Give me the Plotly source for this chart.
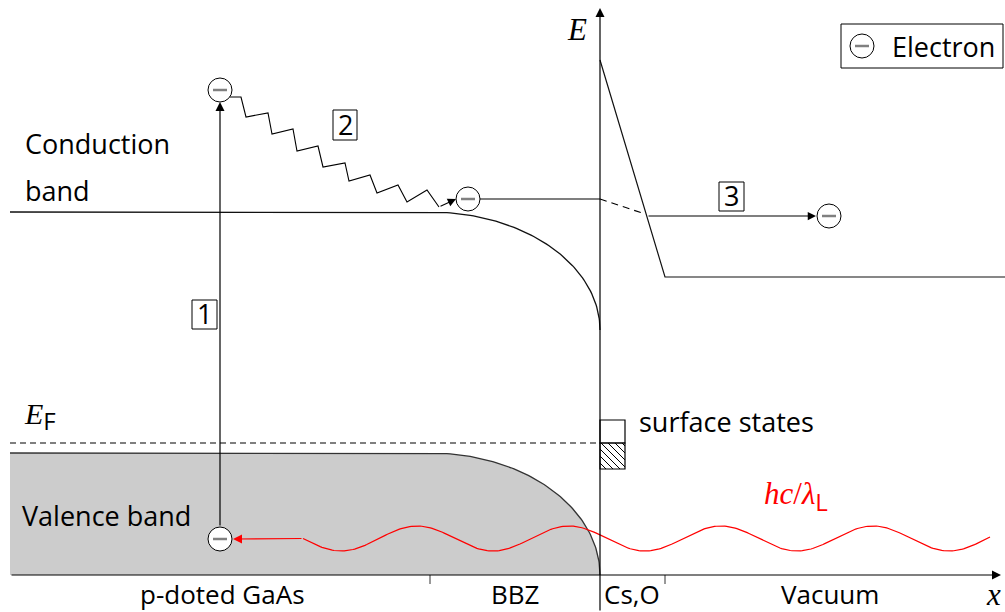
import numpy as np
import plotly.graph_objects as go

# ---- band diagram geometry (x in px along the sample, E in px above the x axis) ----
x_left, x_bend, x_surface, x_cs_end, x_end = 10, 430, 600, 665, 1005
E_cb_bulk, E_cb_surface = 363, 245          # conduction band edge
E_vb_bulk, E_vb_surface = 122, 0            # valence band edge
E_fermi = 132
E_vac_surface, E_vac = 515, 298             # Cs,O barrier top and vacuum level
surface_empty = (155, 132)                  # empty surface states (top, bottom)
surface_filled = (132, 106)                 # occupied surface states

# electrons: top after excitation, thermalised, valence, emitted
electrons = {"excited": (220, 485), "thermal": (468, 376),
             "valence": (220, 36), "emitted": (829, 359)}
r_e = 12

# relaxation zigzag (step 2): alternating upper / lower vertices
zig_x = [230, 241, 246, 268, 272, 293, 297, 318, 323, 345, 349, 370, 377, 398, 407, 427, 439]
zig_py = [97, 97, 117, 113, 134, 129, 151, 146, 167, 163, 181, 175, 193, 185, 202, 190, 207]
zig_E = [575 - v for v in zig_py]

# photon wave hc/lambda_L
wave_E0, wave_amp, wave_period, wave_trough_x = 36.5, 12.5, 152, 341
wave_x_start, wave_x_end = 303, 990

# numbered process steps: label, box x-range, box E-range
steps = [("1", (192, 217), (246, 275)),
         ("2", (333, 357), (435, 465)),
         ("3", (719, 744), (364, 393))]

region_labels = ["p-doted GaAs", "BBZ", "Cs,O", "Vacuum"]
region_x = [222, 515, 632, 830]
ticks_x = [x_bend, x_cs_end]

SANS = "Open Sans"
SERIF = "Liberation Serif"
FS = 27


def quarter_ellipse(x0, E0, x1, E1, n=80):
    t = np.linspace(0, np.pi / 2, n)
    return x0 + (x1 - x0) * np.sin(t), E1 + (E0 - E1) * np.cos(t)


fig = go.Figure()

# valence band (filled)
vx, vE = quarter_ellipse(x_bend, E_vb_bulk, x_surface, E_vb_surface)
vb_x = [x_left] + list(vx) + [x_surface, x_left]
vb_E = [E_vb_bulk] + list(vE) + [0, 0]
fig.add_trace(go.Scatter(x=vb_x, y=vb_E, mode="lines", fill="toself",
                         fillcolor="#cccccc", line=dict(color="rgba(0,0,0,0)", width=0),
                         hoverinfo="skip"))
fig.add_trace(go.Scatter(x=[x_left] + list(vx), y=[E_vb_bulk] + list(vE), mode="lines",
                         line=dict(color="#333333", width=1.3), hoverinfo="skip"))

# conduction band
cx, cE = quarter_ellipse(x_bend, E_cb_bulk, x_surface, E_cb_surface)
fig.add_trace(go.Scatter(x=[x_left] + list(cx), y=[E_cb_bulk] + list(cE), mode="lines",
                         line=dict(color="#111111", width=1.3), hoverinfo="skip"))

# Fermi level
fig.add_trace(go.Scatter(x=[x_left, x_surface], y=[E_fermi, E_fermi], mode="lines",
                         line=dict(color="black", width=1.2, dash="6px,4px"), hoverinfo="skip"))

# Cs,O barrier and vacuum level
fig.add_trace(go.Scatter(x=[x_surface, x_cs_end, x_end], y=[E_vac_surface, E_vac, E_vac],
                         mode="lines", line=dict(color="#111111", width=1.2), hoverinfo="skip"))

# ticks below the x axis
for tx in ticks_x:
    fig.add_trace(go.Scatter(x=[tx, tx], y=[0, -9], mode="lines",
                             line=dict(color="#333333", width=1), hoverinfo="skip"))

# step 2: zigzag relaxation
fig.add_trace(go.Scatter(x=zig_x, y=zig_E, mode="lines",
                         line=dict(color="black", width=1.1), hoverinfo="skip"))

# step 3: transport to the surface and emission
ex_t, E_t = electrons["thermal"]
ex_o, E_o = electrons["emitted"]
fig.add_trace(go.Scatter(x=[ex_t + r_e, x_surface], y=[E_t, E_t], mode="lines",
                         line=dict(color="black", width=1.1), hoverinfo="skip"))
fig.add_trace(go.Scatter(x=[x_surface, 642], y=[E_t, E_t - 14], mode="lines",
                         line=dict(color="black", width=1.1, dash="7px,5px"), hoverinfo="skip"))

# photon wave
wx = np.linspace(wave_x_start, wave_x_end, 400)
wE = wave_E0 - wave_amp * np.cos(2 * np.pi * (wx - wave_trough_x) / wave_period)
fig.add_trace(go.Scatter(x=wx, y=wE, mode="lines",
                         line=dict(color="#ff0000", width=1.2), hoverinfo="skip"))

# surface-state hatching
hatch_x, hatch_E = [], []
top, bot = surface_filled
for c in np.arange(x_surface + bot + 6, x_surface + 25 + top, 7):
    xa, xb = max(x_surface, c - top), min(x_surface + 25, c - bot)
    if xb > xa:
        hatch_x += [xa, xb, None]
        hatch_E += [c - xa, c - xb, None]
fig.add_trace(go.Scatter(x=hatch_x, y=hatch_E, mode="lines",
                         line=dict(color="black", width=1), hoverinfo="skip"))

shapes = []
# surface state boxes
shapes.append(dict(type="rect", x0=x_surface, x1=x_surface + 25, y0=surface_empty[1],
                   y1=surface_empty[0], line=dict(color="black", width=1.2)))
shapes.append(dict(type="rect", x0=x_surface, x1=x_surface + 25, y0=surface_filled[1],
                   y1=surface_filled[0], line=dict(color="black", width=1.2)))
# legend box
shapes.append(dict(type="rect", x0=841, x1=1003, y0=507, y1=551,
                   line=dict(color="black", width=1)))
# step boxes
for _, (sx0, sx1), (sE0, sE1) in steps:
    shapes.append(dict(type="rect", x0=sx0, x1=sx1, y0=sE0, y1=sE1,
                       line=dict(color="black", width=1)))


def electron(cx_, cE_):
    shapes.append(dict(type="circle", x0=cx_ - r_e, x1=cx_ + r_e, y0=cE_ - r_e, y1=cE_ + r_e,
                       line=dict(color="black", width=1), fillcolor="white"))
    shapes.append(dict(type="line", x0=cx_ - 7, x1=cx_ + 7, y0=cE_, y1=cE_,
                       line=dict(color="#808080", width=2.5)))


for (ex_, eE_) in electrons.values():
    electron(ex_, eE_)
electron(862, 529)

fig.update_layout(shapes=shapes)


def arrow(xt, Et, xs, Es, color="black", width=1.2):
    fig.add_annotation(x=xt, y=Et, ax=xs, ay=Es, xref="x", yref="y", axref="x", ayref="y",
                       text="", showarrow=True, arrowhead=2, arrowsize=1.5,
                       arrowwidth=width, arrowcolor=color, standoff=0, startstandoff=0,
                       font=dict(size=10))


# axes
arrow(1001, 0, x_left, 0)
arrow(x_surface, 567, x_surface, -37)
# step 1 excitation
ex_v, E_v = electrons["valence"]
ex_e, E_e = electrons["excited"]
arrow(ex_e, E_e - r_e, ex_v, E_v + r_e)
# zigzag end
arrow(ex_t - r_e, E_t, zig_x[-1], zig_E[-1], width=1.1)
# emission
arrow(ex_o - r_e - 1, E_o, 647, E_o, width=1.1)
# photon absorbed
arrow(ex_v + r_e + 1, E_v, wave_x_start, wave_E0, color="#ff0000")


def label(x, E, text, anchor="left", family=SANS, size=FS, color="black"):
    fig.add_annotation(x=x, y=E, xref="x", yref="y", text=text, showarrow=False,
                       xanchor=anchor, yanchor="middle",
                       font=dict(family=family, size=size, color=color))


label(23, 432, "Conduction")
label(23, 385, "band")
label(20, 60, "Valence band")
label(22, 158, f"<i>E</i><sub><span style='font-family:{SANS};font-size:24px'>F</span></sub>",
      family=SERIF, size=30)
label(637, 154, "surface states")
label(890, 529, "Electron")
label(577, 546, "<i>E</i>", anchor="center", family=SERIF, size=31)
label(993, -19, "<i>x</i>", anchor="center", family=SERIF, size=31)
label(796, 78, f"<i>hc</i>/<i>λ</i><sub><span style='font-family:{SANS};font-size:24px'>L</span></sub>",
      anchor="center", family=SERIF, size=31, color="#ff0000")
for txt, (sx0, sx1), (sE0, sE1) in steps:
    label((sx0 + sx1) / 2, (sE0 + sE1) / 2 + 1, txt, anchor="center")
for t, xx in zip(region_labels, region_x):
    label(xx, -19, t, anchor="center", size=26)

fig.update_layout(
    width=1005, height=612, margin=dict(l=0, r=0, t=0, b=0),
    paper_bgcolor="white", plot_bgcolor="white", showlegend=False,
    xaxis=dict(range=[0, 1005], visible=False, fixedrange=True),
    yaxis=dict(range=[-37, 575], visible=False, fixedrange=True),
)

fig.write_html("out.html")
